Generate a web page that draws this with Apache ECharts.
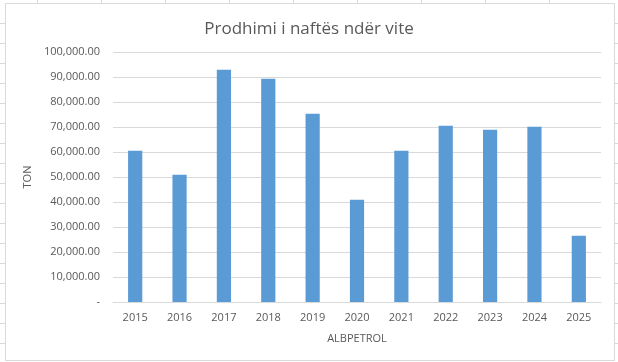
<!DOCTYPE html>
<html>
<head>
<meta charset="utf-8">
<script src="https://cdn.jsdelivr.net/npm/echarts@6/dist/echarts.min.js"></script>
<style>
html,body{margin:0;padding:0;background:#fff;}
#c{width:618px;height:362px;}
</style>
</head>
<body>
<div id="c"></div>
<script>
const categories = ['2015','2016','2017','2018','2019','2020','2021','2022','2023','2024','2025'];
const production = [60500, 50900, 92900, 89300, 75300, 40900, 60500, 70500, 68900, 70100, 26500];
const titleText = 'Prodhimi i naftës ndër vite';
const yName = 'TON';
const xName = 'ALBPETROL';

const chart = echarts.init(document.getElementById('c'), null, {renderer: 'canvas'});

// Background spreadsheet cell lines (decoration)
const deco = [];
const lineStyle = {stroke: '#d9d9d9', lineWidth: 1};
[37, 101, 165, 229, 293, 357, 421, 485, 549].forEach(x => {
  deco.push({type: 'line', shape: {x1: x + 0.5, y1: 0, x2: x + 0.5, y2: 3}, style: lineStyle, silent: true});
});
for (let y = 23; y <= 343; y += 20) {
  deco.push({type: 'line', shape: {x1: 0, y1: y + 0.5, x2: 5, y2: y + 0.5}, style: lineStyle, silent: true});
  deco.push({type: 'line', shape: {x1: 615, y1: y + 0.5, x2: 618, y2: y + 0.5}, style: lineStyle, silent: true});
}
deco.push({type: 'rect', shape: {x: 5.5, y: 3.5, width: 609, height: 357}, style: {fill: 'none', stroke: '#d9d9d9', lineWidth: 1}, silent: true, z: 10});

const fontFam = '"Open Sans", "Liberation Sans", sans-serif';

chart.setOption({
  animation: false,
  backgroundColor: '#fff',
  title: {
    text: titleText,
    left: 'center',
    top: 16,
    textStyle: {color: '#595959', fontSize: 17, fontWeight: 'normal', fontFamily: fontFam}
  },
  graphic: deco,
  grid: {left: 113, right: 17, top: 52, bottom: 60, containLabel: false},
  xAxis: {
    type: 'category',
    data: categories,
    name: xName,
    nameLocation: 'middle',
    nameGap: 31,
    nameTextStyle: {color: '#595959', fontSize: 11, fontFamily: fontFam},
    axisLine: {lineStyle: {color: '#d9d9d9'}},
    axisTick: {show: false},
    axisLabel: {color: '#595959', fontSize: 11, margin: 10, fontFamily: fontFam}
  },
  yAxis: {
    type: 'value',
    min: 0,
    max: 100000,
    interval: 10000,
    name: yName,
    nameLocation: 'middle',
    nameGap: 70,
    nameTextStyle: {color: '#595959', fontSize: 11, fontFamily: fontFam},
    axisLine: {show: false},
    axisTick: {show: false},
    splitLine: {lineStyle: {color: '#d9d9d9'}},
    axisLabel: {
      color: '#595959', fontSize: 11, margin: 13, fontFamily: fontFam,
      formatter: v => v === 0 ? '-' : v.toLocaleString('en-US', {minimumFractionDigits: 2, maximumFractionDigits: 2})
    }
  },
  series: [{
    type: 'bar',
    data: production,
    barCategoryGap: '68%',
    itemStyle: {color: '#5b9bd5'}
  }]
});
</script>
</body>
</html>
